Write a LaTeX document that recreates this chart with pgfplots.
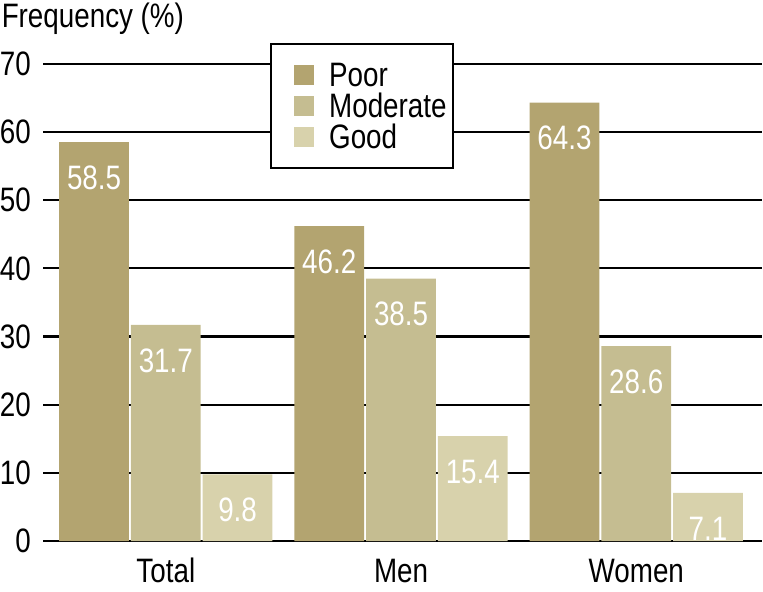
\documentclass[border=0pt]{standalone}
\usepackage{pgfplots}
\pgfplotsset{compat=1.18}
\usepackage{fontspec}
\setmainfont{Liberation Sans}[FakeStretch=0.82]
\definecolor{cPoor}{RGB}{179,164,112}
\definecolor{cMod}{RGB}{197,189,145}
\definecolor{cGood}{RGB}{216,210,172}
\begin{document}
\fontsize{17}{20}\selectfont
\begin{tikzpicture}
\begin{axis}[
  scale only axis,
  width=360.5pt, height=239.5pt,
  xmin=-0.521, xmax=2.534,
  ymin=0, ymax=70,
  ytick={0,10,...,70},
  xtick={0,1,2},
  xticklabels={Total,Men,Women},
  axis line style={draw=none},
  major tick length=0pt,
  ymajorgrids,
  grid style={black, line width=1.1pt},
  /pgf/number format/assume math mode=true,
  yticklabel style={inner sep=0pt, anchor=east, xshift=-6pt},
  xticklabel style={inner sep=0pt, anchor=base, yshift=-20.5pt, text depth=4.5pt},
  clip=false,
  legend cell align=left,
  legend style={at={(0.316,1.044)}, anchor=north west, draw=black, line width=1pt, fill=white,
    inner xsep=1.5pt, inner ysep=8pt, column sep=6pt,
    nodes={inner sep=1.5pt, text height=12pt, text depth=0.5pt}},
]
\addplot[ybar, bar shift=0pt, bar width=0.2966, fill=cPoor, draw=none,
  nodes near coords, every node near coord/.append style={white, inner sep=0pt, yshift=-24pt},
  legend image code/.code={\path (0pt,0pt); \fill[cPoor] (10pt,-5pt) rectangle (20pt,5pt);}]
  coordinates {(-0.3051,58.5) (0.6949,46.2) (1.6949,64.3)};
\addlegendentry{Poor}
\addplot[ybar, bar shift=0pt, bar width=0.2966, fill=cMod, draw=none,
  nodes near coords, every node near coord/.append style={white, inner sep=0pt, yshift=-24pt},
  legend image code/.code={\path (0pt,0pt); \fill[cMod] (10pt,-5pt) rectangle (20pt,5pt);}]
  coordinates {(0,31.7) (1,38.5) (2,28.6)};
\addlegendentry{Moderate}
\addplot[ybar, bar shift=0pt, bar width=0.2966, fill=cGood, draw=none,
  nodes near coords, every node near coord/.append style={white, inner sep=0pt, yshift=-24pt},
  legend image code/.code={\path (0pt,0pt); \fill[cGood] (10pt,-5pt) rectangle (20pt,5pt);}]
  coordinates {(0.3051,9.8) (1.3051,15.4) (2.3051,7.1)};
\addlegendentry{Good}
\node[anchor=base west, inner sep=0pt] at (rel axis cs:-0.0583,1.075) {Frequency (\%)};
\path (rel axis cs:0,1.1336);
\end{axis}
\end{tikzpicture}
\end{document}
